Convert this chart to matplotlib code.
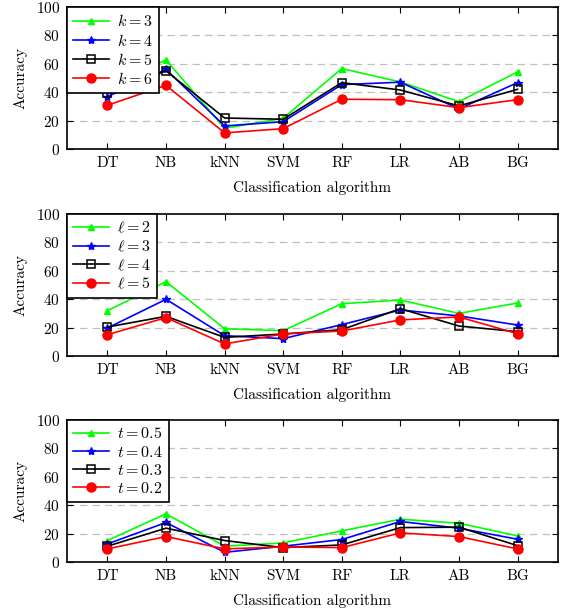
import numpy as np
import matplotlib
matplotlib.use("Agg")
import matplotlib.pyplot as plt

plt.rcParams['font.family'] = 'serif'
plt.rcParams['font.serif'] = ['cmr10', 'DejaVu Serif']
plt.rcParams['mathtext.fontset'] = 'cm'
plt.rcParams['axes.formatter.use_mathtext'] = True
plt.rcParams['font.size'] = 11

algorithms = ['DT', 'NB', 'kNN', 'SVM', 'RF', 'LR', 'AB', 'BG']

# panel 1: k
k_labels = [r'$k=3$', r'$k=4$', r'$k=5$', r'$k=6$']
k3 = [44, 62.7, 14.5, 21.6, 56.6, 47.2, 33.3, 54.2]
k4 = [36.8, 56, 16.2, 19.2, 45.3, 47, 28.2, 46.7]
k5 = [39.2, 55, 21.8, 20.9, 46.7, 41.5, 30.3, 42]
k6 = [30.8, 44.8, 11.3, 14.3, 35, 34.7, 29.1, 34.7]

# panel 2: l
l_labels = [r'$\ell=2$', r'$\ell=3$', r'$\ell=4$', r'$\ell=5$']
l2 = [31.9, 52.3, 19.2, 17.8, 36.8, 39.4, 30, 37.3]
l3 = [19.7, 39.9, 14.3, 12.2, 22.1, 32.4, 28.2, 21.8]
l4 = [20.4, 27.9, 13.1, 15.5, 18.5, 33.3, 21.1, 17.1]
l5 = [15, 27, 8.5, 15.5, 17.6, 25.4, 27.5, 15.7]

# panel 3: t
t_labels = [r'$t=0.5$', r'$t=0.4$', r'$t=0.3$', r'$t=0.2$']
t05 = [15.1, 33.9, 11.1, 13.4, 21.9, 30.1, 27.3, 18.4]
t04 = [12.7, 27.8, 6.8, 11.1, 15.8, 28.5, 23.8, 16]
t03 = [11.1, 23.8, 15.1, 10.1, 12, 24.2, 24.5, 11.5]
t02 = [9.2, 17.9, 9.2, 10.6, 10.1, 20.5, 17.9, 9.2]

styles = [
    dict(color=(0, 1, 0), marker='^', markersize=5, markerfacecolor=(0, 1, 0)),
    dict(color=(0, 0, 1), marker='*', markersize=6, markerfacecolor=(0, 0, 1)),
    dict(color='black', marker='s', markersize=6, markerfacecolor='none', markeredgewidth=1.1),
    dict(color=(1, 0, 0), marker='o', markersize=6.5, markerfacecolor=(1, 0, 0)),
]

panels = [
    (k_labels, [k3, k4, k5, k6]),
    (l_labels, [l2, l3, l4, l5]),
    (t_labels, [t05, t04, t03, t02]),
]

fig = plt.figure(figsize=(5.63, 6.08), dpi=100)
bottoms = [0.755, 0.4145, 0.0757]
x = np.arange(len(algorithms))

for (labels, series), b in zip(panels, bottoms):
    ax = fig.add_axes([0.119, b, 0.872, 0.2336])
    for y in [20, 40, 60, 80]:
        ax.axhline(y, color='#c0c0c0', linestyle=(0, (6, 4)), linewidth=0.9, zorder=0)
    for lab, vals, st in zip(labels, series, styles):
        ax.plot(x, vals, linewidth=1.2, label=lab, **st)
    ax.set_xlim(-0.69, 7.69)
    ax.set_ylim(0, 100)
    ax.set_xticks(x)
    ax.set_xticklabels(algorithms)
    ax.set_yticks([0, 20, 40, 60, 80, 100])
    ax.tick_params(direction='in', top=True, right=True, length=4, width=0.8, pad=5)
    for s in ax.spines.values():
        s.set_linewidth(1.2)
    ax.set_ylabel('Accuracy', labelpad=6)
    ax.set_xlabel('Classification algorithm', labelpad=8)
    leg = ax.legend(loc='upper left', fancybox=False, framealpha=1, edgecolor='black',
                    borderaxespad=0, handlelength=2.2, labelspacing=0.2,
                    borderpad=0.4, handletextpad=0.5, fontsize=11.5)
    leg.get_frame().set_linewidth(1.2)

fig.savefig('out.png', dpi=100)
